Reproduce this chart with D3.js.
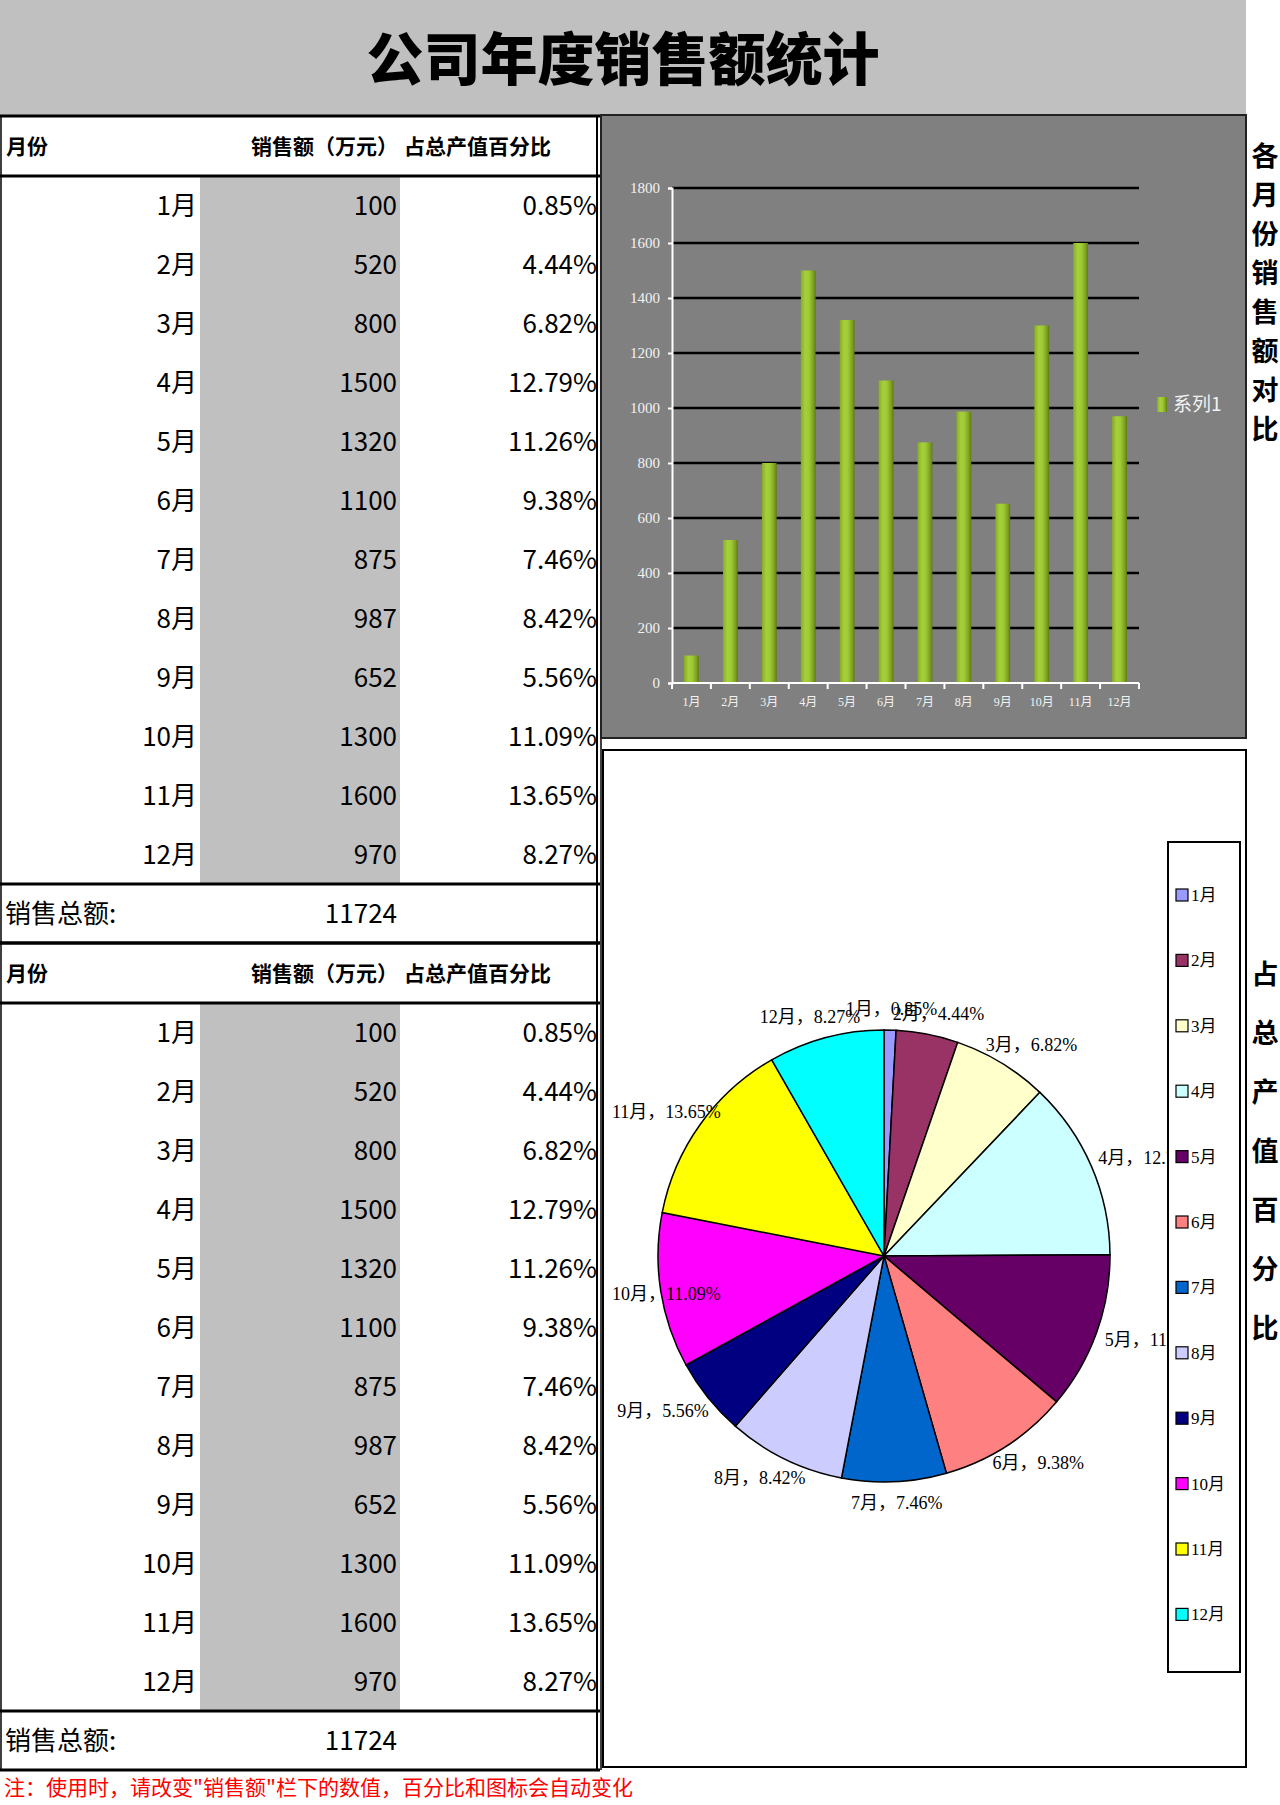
<!DOCTYPE html>
<html><head><meta charset="utf-8">
<script src="https://cdn.jsdelivr.net/npm/d3@7"></script>
<style>
html,body{margin:0;padding:0;background:#fff;}
svg{display:block;}
</style></head>
<body>
<svg id="c" width="1280" height="1805"></svg>
<script>
// ---------- data ----------
const months = ["1月","2月","3月","4月","5月","6月","7月","8月","9月","10月","11月","12月"];
const sales = [100,520,800,1500,1320,1100,875,987,652,1300,1600,970];
const percents = ["0.85%","4.44%","6.82%","12.79%","11.26%","9.38%","7.46%","8.42%","5.56%","11.09%","13.65%","8.27%"];
const totalSales = 11724;
const yTicks = [0,200,400,600,800,1000,1200,1400,1600,1800];
const pieColors = ["#9999FF","#993366","#FFFFCC","#CCFFFF","#660066","#FF8080","#0066CC","#CCCCFF","#000080","#FF00FF","#FFFF00","#00FFFF"];
const title = "公司年度销售额统计";
const headers = ["月份","销售额（万元）","占总产值百分比"];
const totalLabel = "销售总额:";
const barTitle = "各月份销售额对比";
const pieTitle = "占总产值百分比";
const seriesName = "系列1";
const note = "注：使用时，请改变\"销售额\"栏下的数值，百分比和图标会自动变化";

const svg = d3.select("#c");
const SANS = "'Noto Sans CJK SC','Noto Sans',sans-serif";
const SERIF = "'Liberation Serif','DejaVu Serif','Noto Sans CJK SC',serif";

// ---------- title band ----------
svg.append("rect").attr("x",0).attr("y",0).attr("width",1246).attr("height",115).attr("fill","#C0C0C0");
svg.append("text").attr("x",623).attr("y",80).attr("text-anchor","middle")
  .attr("font-family",SANS).attr("font-weight",900).attr("font-size",57).attr("fill","#000").text(title);

// ---------- tables ----------
const rowH = 59;
function drawTable(top){
  const hTop = top, hBot = top+60, dTop = hBot, dBot = dTop + rowH*months.length, tBot = dBot+rowH;
  svg.append("rect").attr("x",200).attr("y",dTop).attr("width",200).attr("height",dBot-dTop).attr("fill","#C0C0C0");
  const hy = hTop+38;
  svg.append("text").attr("x",6).attr("y",hy).attr("font-family",SANS).attr("font-weight",700).attr("font-size",21).text(headers[0]);
  svg.append("text").attr("x",398).attr("y",hy).attr("text-anchor","end").attr("font-family",SANS).attr("font-weight",700).attr("font-size",21).text(headers[1]);
  svg.append("text").attr("x",404).attr("y",hy).attr("font-family",SANS).attr("font-weight",700).attr("font-size",21).text(headers[2]);
  const g = svg.append("g").attr("font-family",SANS).attr("font-size",26).attr("fill","#000");
  const rows = g.selectAll("g.r").data(months).join("g").attr("class","r")
    .attr("transform",(d,i)=>`translate(0,${dTop+rowH*i+rowH/2+9})`);
  rows.append("text").attr("x",197).attr("text-anchor","end").text(d=>d);
  rows.append("text").attr("x",397).attr("text-anchor","end").text((d,i)=>sales[i]);
  rows.append("text").attr("x",597).attr("text-anchor","end").text((d,i)=>percents[i]);
  svg.append("text").attr("x",5).attr("y",dBot+rowH/2+9).attr("font-family",SANS).attr("font-size",26).text(totalLabel);
  svg.append("text").attr("x",397).attr("y",dBot+rowH/2+9).attr("text-anchor","end").attr("font-family",SANS).attr("font-size",26).text(totalSales);
  [hTop,hBot,dBot,tBot].forEach(y=>{
    svg.append("line").attr("x1",0).attr("x2",600).attr("y1",y).attr("y2",y).attr("stroke","#000").attr("stroke-width",3);
  });
  svg.append("line").attr("x1",1).attr("x2",1).attr("y1",hTop).attr("y2",tBot).attr("stroke","#000").attr("stroke-width",1.5);
  svg.append("line").attr("x1",597).attr("x2",597).attr("y1",hTop).attr("y2",tBot).attr("stroke","#000").attr("stroke-width",2);
  svg.append("line").attr("x1",601).attr("x2",601).attr("y1",hTop).attr("y2",tBot).attr("stroke","#000").attr("stroke-width",1.5);
  return tBot;
}
const t1 = drawTable(116);
drawTable(t1);

// note
svg.append("text").attr("x",4).attr("y",1795).attr("font-family",SANS).attr("font-size",21).attr("fill","#FF0000").text(note);

// ---------- bar chart ----------
svg.append("rect").attr("x",601).attr("y",115).attr("width",645).attr("height",623).attr("fill","#808080").attr("stroke","#222").attr("stroke-width",2);
const defs = svg.append("defs");
const grad = defs.append("linearGradient").attr("id","barG").attr("x1","0%").attr("x2","100%").attr("y1","0%").attr("y2","0%");
[["0%","#86ad24"],["30%","#a6d03b"],["55%","#9fca36"],["85%","#7c9f20"],["100%","#5d7a12"]].forEach(s=>grad.append("stop").attr("offset",s[0]).attr("stop-color",s[1]));

const x = d3.scaleBand().domain(months).range([672,1139]).paddingInner(0.62).paddingOuter(0.31);
const y = d3.scaleLinear().domain([0,1800]).range([683,188]);

svg.append("g").selectAll("line").data(yTicks.filter(t=>t>0)).join("line")
  .attr("x1",672).attr("x2",1139).attr("y1",d=>y(d)).attr("y2",d=>y(d)).attr("stroke","#000").attr("stroke-width",2.5);

svg.append("g").selectAll("rect").data(sales).join("rect")
  .attr("x",(d,i)=>x(months[i])).attr("width",x.bandwidth())
  .attr("y",d=>y(d)).attr("height",d=>y(0)-y(d)).attr("fill","url(#barG)");

const yAxis = svg.append("g").attr("transform","translate(672,0)")
  .call(d3.axisLeft(y).tickValues(yTicks).tickSize(4).tickPadding(8).tickFormat(d3.format("d")));
yAxis.select(".domain").attr("stroke","#fff").attr("stroke-width",2);
yAxis.selectAll(".tick line").attr("stroke","#fff").attr("stroke-width",2);
yAxis.selectAll("text").attr("fill","#f2f2f2").attr("font-family",SERIF).attr("font-size",15);

const xPos = d3.scaleLinear().domain([0,months.length]).range([672,1139]);
svg.append("line").attr("x1",672).attr("x2",1139).attr("y1",y(0)).attr("y2",y(0)).attr("stroke","#fff").attr("stroke-width",2);
svg.append("g").selectAll("line").data(d3.range(months.length+1)).join("line")
  .attr("x1",d=>xPos(d)).attr("x2",d=>xPos(d)).attr("y1",y(0)).attr("y2",y(0)+6).attr("stroke","#fff").attr("stroke-width",2);
svg.append("g").selectAll("text").data(months).join("text")
  .attr("x",d=>x(d)+x.bandwidth()/2).attr("y",y(0)+23).attr("text-anchor","middle")
  .attr("fill","#f2f2f2").attr("font-family",SERIF).attr("font-size",12).text(d=>d);

svg.append("rect").attr("x",1157).attr("y",397).attr("width",10).attr("height",15).attr("fill","url(#barG)");
svg.append("text").attr("x",1173).attr("y",411).attr("fill","#f2f2f2").attr("font-family",SANS).attr("font-size",19).text(seriesName);

svg.append("g").selectAll("text").data(Array.from(barTitle)).join("text")
  .attr("x",1265).attr("y",(d,i)=>156+39*i+10).attr("text-anchor","middle")
  .attr("font-family",SANS).attr("font-weight",700).attr("font-size",27).text(d=>d);

// ---------- pie chart ----------
const box = {x:603,y:750,w:643,h:1017};
const legBox = {x:1168,y:842,w:72,h:830};
svg.append("rect").attr("x",box.x).attr("y",box.y).attr("width",box.w).attr("height",box.h).attr("fill","#fff").attr("stroke","#000").attr("stroke-width",2);
const cx = 884, cy = 1256, R = 226;
const pie = d3.pie().sort(null).value(d=>d)(sales);
const arc = d3.arc().innerRadius(0).outerRadius(R);
const pg = svg.append("g").attr("transform",`translate(${cx},${cy})`);
pg.selectAll("path").data(pie).join("path").attr("d",arc)
  .attr("fill",(d,i)=>pieColors[i]).attr("stroke","#000").attr("stroke-width",1.5);

// labels are hidden behind the legend box (clipped at its left edge), as in the reference
defs.append("clipPath").attr("id","lblClip").append("rect")
  .attr("x",box.x).attr("y",box.y).attr("width",legBox.x-box.x).attr("height",box.h);
const lg = svg.append("g").attr("clip-path","url(#lblClip)").attr("font-family",SERIF).attr("font-size",18).attr("fill","#000");
pie.forEach((d,i)=>{
  const a = (d.startAngle+d.endAngle)/2;
  const s = Math.sin(a), c = -Math.cos(a);
  const t = lg.append("text").attr("text-anchor","middle").text(months[i]+"，"+percents[i]);
  const w = t.node().getComputedTextLength();
  const h = 18, pad = 12;
  let lx = cx + (R+pad)*s + (w/2)*s;
  let ly = cy + (R+pad)*c + (h/2)*c;
  const minX = box.x + 9 + w/2;
  if (lx < minX) lx = minX;
  t.attr("x",lx).attr("y",ly+6);
});

svg.append("rect").attr("x",legBox.x).attr("y",legBox.y).attr("width",legBox.w).attr("height",legBox.h).attr("fill","#fff").attr("stroke","#000").attr("stroke-width",2);
const leg = svg.append("g").selectAll("g").data(months).join("g")
  .attr("transform",(d,i)=>`translate(1176,${895+65.4*i})`);
leg.append("rect").attr("x",0).attr("y",-6).attr("width",12).attr("height",12)
  .attr("fill",(d,i)=>pieColors[i]).attr("stroke","#000").attr("stroke-width",1.2);
leg.append("text").attr("x",15).attr("y",6).attr("font-family",SERIF).attr("font-size",17).text(d=>d);

svg.append("g").selectAll("text").data(Array.from(pieTitle)).join("text")
  .attr("x",1265).attr("y",(d,i)=>974+59*i+10).attr("text-anchor","middle")
  .attr("font-family",SANS).attr("font-weight",700).attr("font-size",27).text(d=>d);
</script>
</body></html>
